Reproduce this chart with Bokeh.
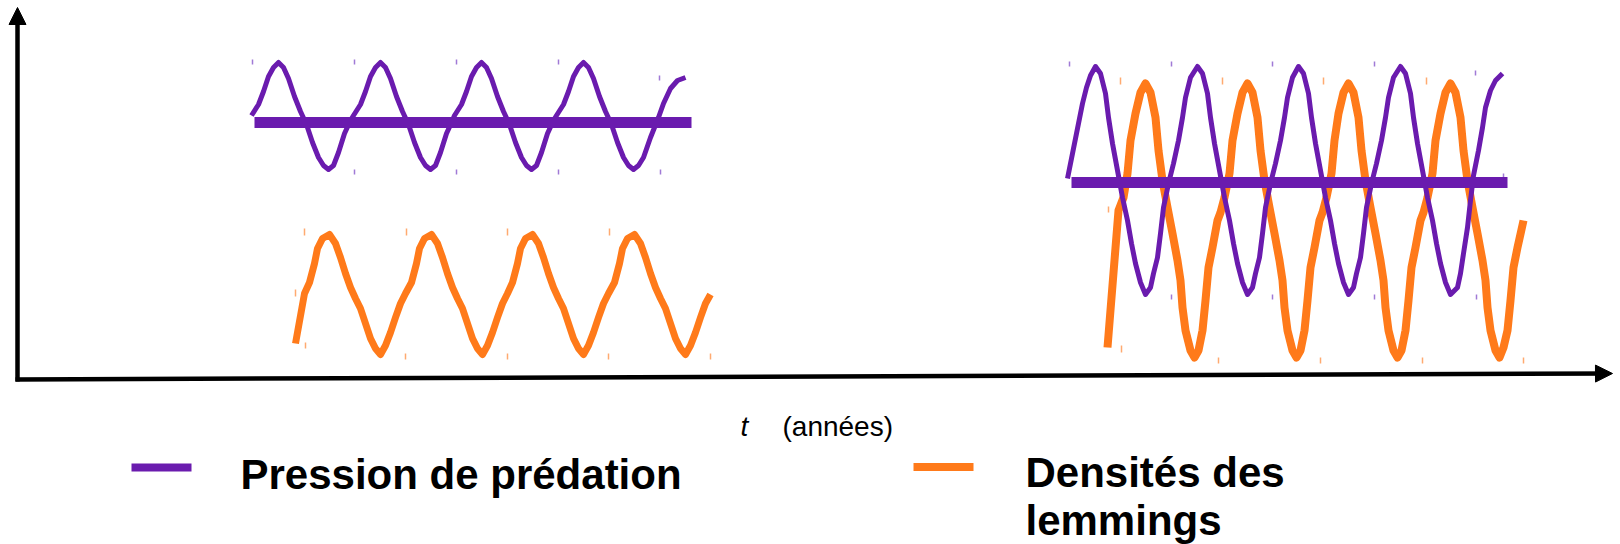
from bokeh.plotting import figure
from bokeh.models import Range1d, Arrow, NormalHead
from bokeh.embed import file_html
from bokeh.resources import INLINE
from bokeh.core.properties import value

PURPLE = "#6A1BAE"
ORANGE = "#FF7A1A"
PURPLE_TICK = "#A07AD6"
ORANGE_TICK = "#FFAA70"
FONT = "Liberation Sans"

# ---------------- data (time t, level; level axis drawn downward) ----------------
# left panel: predation pressure (weak cycles)
pred_left_t = [251, 258, 263, 268, 273, 278, 283, 288, 294, 300, 306, 312, 318, 323, 328, 333, 338, 344, 350,
               353, 360, 365, 370, 375, 380, 385, 390, 396, 402, 408, 414, 420, 425, 430, 435, 440, 446, 452,
               454, 461, 466, 471, 476, 481, 486, 491, 497, 503, 509, 515, 521, 526, 531, 536, 541, 547, 553,
               556, 563, 568, 573, 578, 583, 588, 593, 599, 605, 611, 617, 623, 628, 633, 638, 643, 650, 658,
               663, 670, 677, 685]
pred_left_v = [115, 104, 91, 76, 67, 62, 67, 78, 96, 111, 124, 142, 157, 165, 169, 165, 152, 133, 120,
               115, 104, 91, 76, 67, 62, 67, 78, 96, 111, 124, 142, 157, 165, 169, 165, 152, 133, 120,
               115, 104, 91, 76, 67, 62, 67, 78, 96, 111, 124, 142, 157, 165, 169, 165, 152, 133, 120,
               115, 104, 91, 76, 67, 62, 67, 78, 96, 111, 124, 142, 157, 165, 169, 165, 157, 137, 117,
               103, 88, 80, 77]
pred_left_mean_t = [254, 691]
pred_left_mean_v = [122, 122]

# left panel: lemming densities
lem_left_t = [295, 304, 309, 314, 317, 322, 329, 335, 340, 345, 350, 355, 360, 365, 370, 375, 380, 385, 390, 395, 400, 405,
              411, 416, 419, 424, 431, 437, 442, 447, 452, 457, 462, 467, 472, 477, 482, 487, 492, 497, 502, 507,
              512, 517, 520, 525, 532, 538, 543, 548, 553, 558, 563, 568, 573, 578, 583, 588, 593, 598, 603, 608,
              614, 619, 622, 627, 634, 640, 645, 650, 655, 660, 665, 670, 675, 680, 685, 690, 695, 700, 705, 710]
lem_left_v = [343, 293, 282, 263, 248, 238, 234, 243, 257, 273, 287, 298, 308, 323, 338, 348, 354, 345, 332, 317, 303, 293,
              282, 263, 248, 238, 234, 243, 257, 273, 287, 298, 308, 323, 338, 348, 354, 345, 332, 317, 303, 293,
              282, 263, 248, 238, 234, 243, 257, 273, 287, 298, 308, 323, 338, 348, 354, 345, 332, 317, 303, 293,
              282, 263, 248, 238, 234, 243, 257, 273, 287, 298, 308, 323, 338, 348, 354, 345, 332, 317, 303, 294]

# right panel: predation pressure (strong cycles)
pred_right_t = [1067, 1070, 1074, 1078, 1082, 1086, 1090, 1095,
                1100, 1105, 1108, 1112, 1117, 1122, 1127, 1131, 1135, 1140, 1145, 1150, 1153, 1157, 1160, 1163,
                1168, 1173, 1178, 1182, 1185, 1190, 1197,
                1202, 1207, 1210, 1214, 1219, 1224, 1229, 1233, 1237, 1242, 1247, 1252, 1255, 1259, 1262, 1265,
                1270, 1275, 1280, 1284, 1287, 1292, 1298,
                1303, 1308, 1311, 1315, 1320, 1325, 1330, 1334, 1338, 1343, 1348, 1353, 1356, 1360, 1363, 1366,
                1371, 1376, 1381, 1385, 1388, 1393, 1400,
                1405, 1410, 1413, 1417, 1422, 1427, 1432, 1436, 1440, 1445, 1450, 1457, 1460, 1463, 1467, 1470,
                1473, 1478, 1482, 1485, 1490, 1495, 1502]
pred_right_v = [178, 163, 143, 123, 103, 87, 75, 66,
                73, 93, 117, 143, 170, 197, 220, 243, 263, 282, 294, 287, 273, 257, 233, 207,
                183, 163, 140, 117, 97, 77, 66,
                73, 93, 117, 143, 170, 197, 220, 243, 263, 282, 294, 287, 273, 257, 233, 207,
                183, 163, 140, 117, 97, 77, 66,
                73, 93, 117, 143, 170, 197, 220, 243, 263, 282, 294, 287, 273, 257, 233, 207,
                183, 163, 140, 117, 97, 77, 66,
                73, 93, 117, 143, 170, 197, 220, 243, 263, 282, 294, 287, 273, 253, 227, 200,
                175, 150, 127, 107, 90, 80, 73]
pred_right_mean_t = [1071, 1507]
pred_right_mean_v = [182, 182]

# right panel: lemming densities
lem_right_t = [1107, 1118, 1123, 1127, 1130, 1135, 1140, 1145,
               1150, 1155, 1158, 1162, 1167, 1172, 1177, 1180, 1182, 1185, 1190, 1194, 1198, 1202, 1205, 1208,
               1212, 1217, 1220, 1224, 1229, 1232, 1237, 1242, 1247,
               1252, 1257, 1260, 1264, 1269, 1274, 1279, 1282, 1284, 1287, 1292, 1296, 1300, 1304, 1307, 1310,
               1314, 1319, 1322, 1326, 1331, 1334, 1338, 1343, 1348,
               1353, 1358, 1361, 1365, 1370, 1375, 1380, 1383, 1385, 1388, 1393, 1397, 1401, 1405, 1408, 1411,
               1415, 1420, 1423, 1427, 1432, 1435, 1440, 1445, 1450,
               1455, 1460, 1463, 1467, 1472, 1477, 1482, 1485, 1487, 1490, 1495, 1499, 1503, 1507, 1510, 1513,
               1517, 1523]
lem_right_v = [347, 210, 197, 173, 140, 113, 92, 83,
               92, 117, 150, 180, 207, 233, 260, 280, 307, 330, 350, 357, 350, 330, 300, 267,
               247, 220, 212, 197, 173, 140, 113, 92, 83,
               92, 117, 150, 180, 207, 233, 260, 280, 307, 330, 350, 357, 350, 330, 300, 267,
               247, 220, 212, 197, 173, 140, 113, 92, 83,
               92, 117, 150, 180, 207, 233, 260, 280, 307, 330, 350, 357, 350, 330, 300, 267,
               247, 220, 212, 197, 173, 140, 113, 92, 83,
               92, 117, 150, 180, 207, 233, 260, 280, 307, 330, 350, 357, 347, 330, 300, 267,
               247, 220]

# small tick marks left on the drawing (t, level from, level to)
pred_tick_t = [252, 354, 456, 558, 659, 354, 456, 558, 660,
               1069, 1171, 1272, 1374, 1475, 1171, 1272, 1374, 1476, 1503]
pred_tick_v0 = [59, 59, 59, 59, 75, 169, 169, 169, 169,
                61, 61, 61, 61, 70, 294, 294, 294, 294, 173]
pred_tick_v1 = [64, 64, 64, 64, 80, 174, 174, 174, 174,
                66, 66, 66, 66, 75, 299, 299, 299, 299, 177]
lem_tick_t = [304, 406, 507, 609, 295, 305, 405, 507, 608, 710,
              1120, 1222, 1323, 1426, 1108, 1121, 1218, 1320, 1422, 1523]
lem_tick_v0 = [228, 228, 228, 228, 289, 342, 353, 353, 353, 353,
               77, 77, 77, 77, 206, 345, 357, 357, 357, 357]
lem_tick_v1 = [235, 235, 235, 235, 296, 348, 359, 359, 359, 359,
               84, 84, 84, 84, 212, 352, 363, 363, 363, 363]

# legend entries
legend_labels = ["Pression de prédation", "Densités des", "lemmings"]
axis_label_symbol = "t"
axis_label_unit = "(années)"

# ---------------- figure ----------------
p = figure(width=1620, height=544, output_backend="svg", toolbar_location=None,
           x_range=Range1d(0, 1620), y_range=Range1d(544, 0),
           x_axis_location=None, y_axis_location=None, min_border=0,
           outline_line_color=None, background_fill_color="white",
           border_fill_color="white")
p.grid.visible = False

# tick remnants
p.segment(x0=pred_tick_t, y0=pred_tick_v0, x1=pred_tick_t, y1=pred_tick_v1,
          line_color=PURPLE_TICK, line_width=1.5)
p.segment(x0=lem_tick_t, y0=lem_tick_v0, x1=lem_tick_t, y1=lem_tick_v1,
          line_color=ORANGE_TICK, line_width=1.5)

# curves
p.line(lem_left_t, lem_left_v, line_color=ORANGE, line_width=7, line_join="round", line_cap="butt")
p.line(lem_right_t, lem_right_v, line_color=ORANGE, line_width=8, line_join="round", line_cap="butt")
p.line(pred_left_t, pred_left_v, line_color=PURPLE, line_width=5, line_join="round", line_cap="butt")
p.line(pred_right_t, pred_right_v, line_color=PURPLE, line_width=5, line_join="round", line_cap="butt")
p.line(pred_left_mean_t, pred_left_mean_v, line_color=PURPLE, line_width=11, line_cap="butt")
p.line(pred_right_mean_t, pred_right_mean_v, line_color=PURPLE, line_width=11, line_cap="butt")

# axes arrows
p.add_layout(Arrow(end=NormalHead(size=17, fill_color="black", line_color="black", line_width=1),
                   x_start=17, y_start=381, x_end=17, y_end=7,
                   line_color="black", line_width=4.5))
p.add_layout(Arrow(end=NormalHead(size=17, fill_color="black", line_color="black", line_width=1),
                   x_start=15, y_start=379, x_end=1612, y_end=373,
                   line_color="black", line_width=4.5))

# axis label
p.text(x=[740], y=[426], text=[axis_label_symbol], text_font=value(FONT), text_font_size="28px",
       text_font_style="italic", text_baseline="alphabetic", text_align="left", text_color="black")
p.text(x=[782], y=[426], text=[axis_label_unit], text_font=value(FONT), text_font_size="28px",
       text_baseline="alphabetic", text_align="left", text_color="black")

# legend
p.line([131, 191], [467, 467], line_color=PURPLE, line_width=8, line_cap="butt")
p.line([913, 973], [466.5, 466.5], line_color=ORANGE, line_width=8, line_cap="butt")
p.text(x=[240, 1025, 1025], y=[474, 472, 520], text=legend_labels, text_font=value(FONT),
       text_font_size="42px", text_font_style="bold", text_baseline="alphabetic",
       text_align="left", text_color="black")

open("out.html", "w").write(file_html(p, INLINE))
